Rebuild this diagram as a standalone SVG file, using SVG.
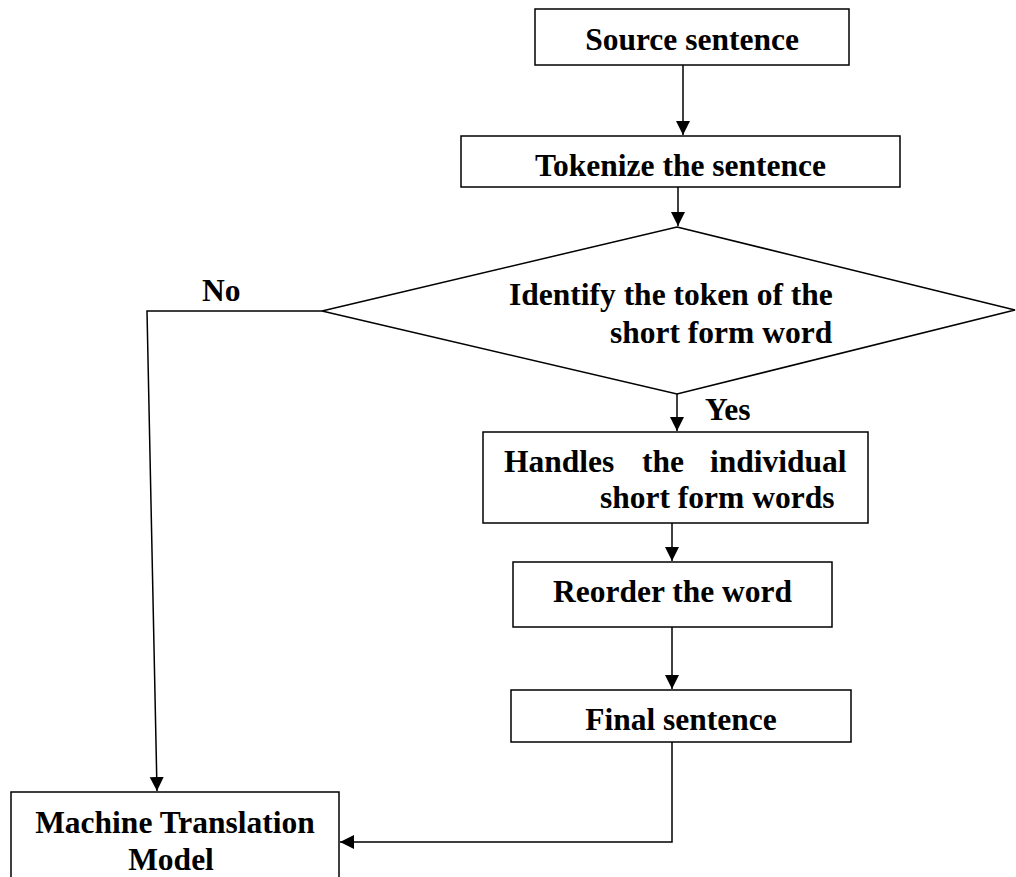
<svg xmlns="http://www.w3.org/2000/svg" width="1016" height="877" viewBox="0 0 1016 877">
<style>
.box{fill:#fff;stroke:#000;stroke-width:1.5}
.t{font-family:"Liberation Serif","Times New Roman",serif;font-weight:bold;font-size:31.5px;fill:#000}
.c{stroke:#000;stroke-width:1.5;fill:none}
</style>
<defs>
<marker id="arr" markerUnits="userSpaceOnUse" markerWidth="16" markerHeight="16" refX="14" refY="7" orient="auto">
<path d="M0,0 L14,7 L0,14 z" fill="#000"/>
</marker>
</defs>
<rect width="1016" height="877" fill="#fff"/>
<g id="connectors">
<line class="c" x1="683" y1="65" x2="683" y2="135" marker-end="url(#arr)"/>
<line class="c" x1="678" y1="187" x2="678" y2="226" marker-end="url(#arr)"/>
<polyline class="c" points="322,311 147,311 157,791" marker-end="url(#arr)"/>
<line class="c" x1="677" y1="394" x2="677" y2="431" marker-end="url(#arr)"/>
<line class="c" x1="672" y1="523" x2="672" y2="561" marker-end="url(#arr)"/>
<line class="c" x1="672" y1="627" x2="672" y2="689" marker-end="url(#arr)"/>
<polyline class="c" points="672,742 672,842 340,842" marker-end="url(#arr)"/>
<text class="t" x="202" y="301">No</text>
<text class="t" x="705" y="420">Yes</text>
</g>
<g id="source">
<rect class="box" x="535" y="9" width="314" height="56"/>
<text class="t" x="692" y="50" text-anchor="middle">Source sentence</text>
</g>
<g id="tokenize">
<rect class="box" x="461" y="136" width="439" height="51"/>
<text class="t" x="680.5" y="176" text-anchor="middle">Tokenize the sentence</text>
</g>
<g id="decision">
<polygon class="box" points="677,227 1015,310 677,394 322,311"/>
<text class="t" x="509" y="305">Identify the token of the</text>
<text class="t" x="610" y="343">short form word</text>
</g>
<g id="handles">
<rect class="box" x="483" y="432" width="385" height="91"/>
<text class="t" y="472"><tspan x="504">Handles</tspan><tspan x="642">the</tspan><tspan x="710">individual</tspan></text>
<text class="t" x="600" y="508">short form words</text>
</g>
<g id="reorder">
<rect class="box" x="513" y="562" width="319" height="65"/>
<text class="t" x="672.5" y="602" text-anchor="middle">Reorder the word</text>
</g>
<g id="final">
<rect class="box" x="511" y="690" width="340" height="52"/>
<text class="t" x="681" y="730" text-anchor="middle">Final sentence</text>
</g>
<g id="mt">
<rect class="box" x="11" y="792" width="328" height="100"/>
<text class="t" x="175" y="833" text-anchor="middle">Machine Translation</text>
<text class="t" x="171" y="870" text-anchor="middle">Model</text>
</g>
</svg>
